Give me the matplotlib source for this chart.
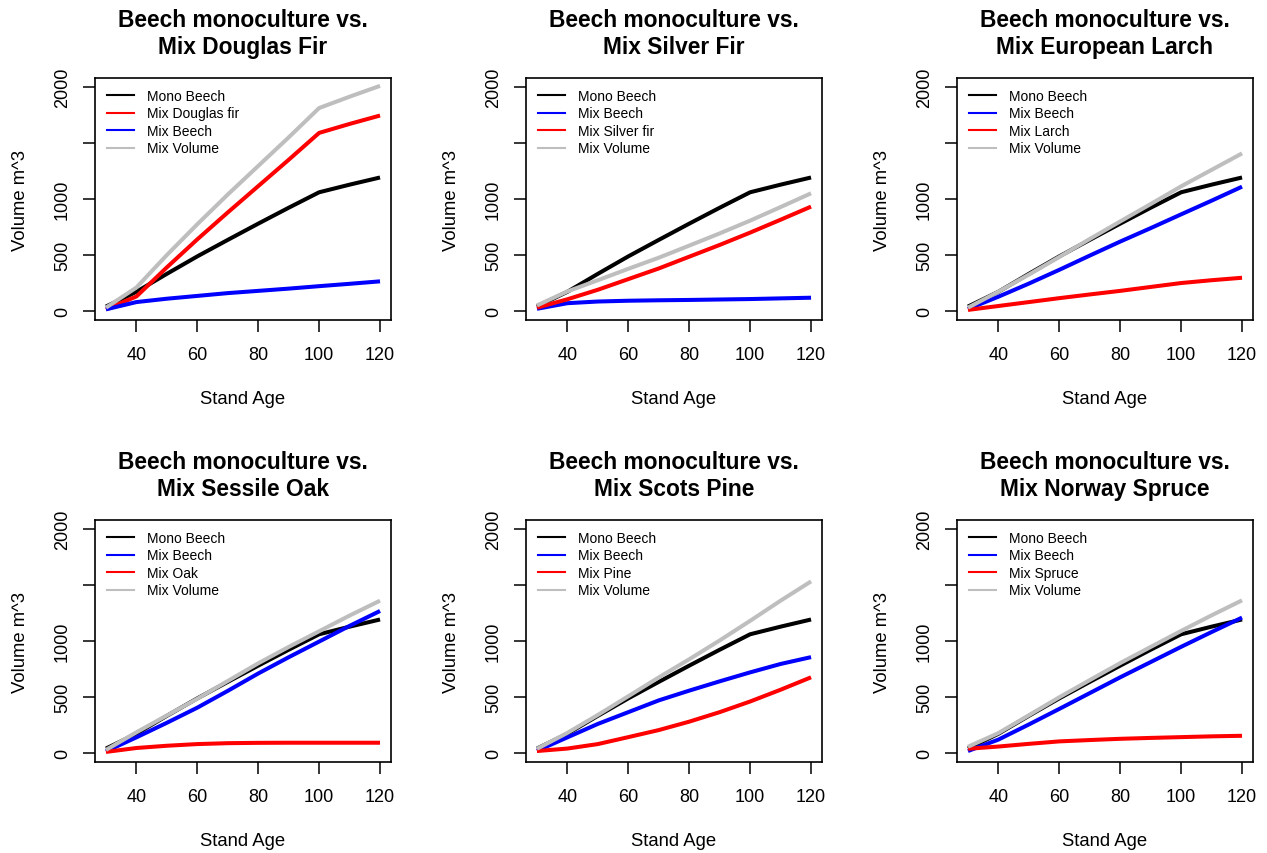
import matplotlib
matplotlib.use("Agg")
import matplotlib.pyplot as plt
from matplotlib.lines import Line2D

plt.rcParams['font.family'] = ['Liberation Sans', 'DejaVu Sans']

# stand age (years)
ages = [30, 40, 50, 60, 70, 80, 90, 100, 110, 120]

# beech monoculture, same in every panel
mono_beech = [40, 172, 332, 488, 635, 780, 922, 1060, 1128, 1192]

# Douglas fir mixture
df_fir = [15, 130, 390, 640, 880, 1115, 1350, 1590, 1670, 1745]
df_beech = [15, 80, 110, 135, 160, 180, 200, 222, 243, 265]
df_total = [30, 210, 500, 775, 1040, 1295, 1550, 1812, 1913, 2010]

# silver fir mixture
sf_fir = [30, 105, 190, 285, 380, 485, 590, 700, 815, 932]
sf_beech = [20, 70, 85, 92, 96, 99, 103, 107, 113, 119]
sf_total = [50, 175, 275, 377, 476, 584, 693, 807, 928, 1051]

# larch mixture
la_larch = [10, 45, 80, 115, 148, 180, 215, 250, 275, 297]
la_beech = [18, 128, 245, 368, 495, 620, 740, 863, 985, 1110]
la_total = [30, 173, 325, 483, 643, 800, 955, 1113, 1260, 1407]

# oak mixture
oa_oak = [10, 45, 65, 80, 88, 91, 92, 92, 92, 92]
oa_beech = [15, 140, 270, 405, 555, 710, 855, 995, 1135, 1268]
oa_total = [28, 185, 335, 485, 643, 801, 947, 1087, 1227, 1360]

# pine mixture
pi_pine = [18, 40, 80, 142, 205, 280, 365, 460, 565, 676]
pi_beech = [20, 140, 260, 365, 470, 557, 640, 720, 795, 856]
pi_total = [38, 180, 340, 507, 675, 837, 1005, 1180, 1360, 1532]

# spruce mixture
sp_spruce = [38, 58, 82, 104, 116, 127, 135, 142, 149, 154]
sp_beech = [18, 120, 255, 394, 535, 676, 812, 948, 1080, 1209]
sp_total = [56, 178, 337, 498, 651, 803, 947, 1090, 1229, 1363]

titles = ['Mix Douglas Fir', 'Mix Silver Fir', 'Mix European Larch',
          'Mix Sessile Oak', 'Mix Scots Pine', 'Mix Norway Spruce']

# (title, [(label, values, colour), ...] in legend order)
panels = [
    (titles[0], [('Mono Beech', mono_beech, 'black'),
                 ('Mix Douglas fir', df_fir, 'red'),
                 ('Mix Beech', df_beech, 'blue'),
                 ('Mix Volume', df_total, '#BEBEBE')]),
    (titles[1], [('Mono Beech', mono_beech, 'black'),
                 ('Mix Beech', sf_beech, 'blue'),
                 ('Mix Silver fir', sf_fir, 'red'),
                 ('Mix Volume', sf_total, '#BEBEBE')]),
    (titles[2], [('Mono Beech', mono_beech, 'black'),
                 ('Mix Beech', la_beech, 'blue'),
                 ('Mix Larch', la_larch, 'red'),
                 ('Mix Volume', la_total, '#BEBEBE')]),
    (titles[3], [('Mono Beech', mono_beech, 'black'),
                 ('Mix Beech', oa_beech, 'blue'),
                 ('Mix Oak', oa_oak, 'red'),
                 ('Mix Volume', oa_total, '#BEBEBE')]),
    (titles[4], [('Mono Beech', mono_beech, 'black'),
                 ('Mix Beech', pi_beech, 'blue'),
                 ('Mix Pine', pi_pine, 'red'),
                 ('Mix Volume', pi_total, '#BEBEBE')]),
    (titles[5], [('Mono Beech', mono_beech, 'black'),
                 ('Mix Beech', sp_beech, 'blue'),
                 ('Mix Spruce', sp_spruce, 'red'),
                 ('Mix Volume', sp_total, '#BEBEBE')]),
]

W, H = 1267, 854
fig = plt.figure(figsize=(W / 100, H / 100), dpi=100)

# plot regions in pixels: left, top
lefts = [95, 526, 957]
tops = [79, 521]
pw, ph = 296, 242

for i, (title, series) in enumerate(panels):
    left = lefts[i % 3]
    top = tops[i // 3]
    ax = fig.add_axes([left / W, 1 - (top + ph) / H, pw / W, ph / H])

    for label, vals, col in series:
        ax.plot(ages, vals, color=col, lw=2.9, solid_capstyle='butt')

    ax.set_xlim(26.4, 123.6)
    ax.set_ylim(-80, 2080)
    ax.set_xticks([40, 60, 80, 100, 120])
    ax.set_yticks([0, 500, 1000, 1500, 2000])
    ax.set_yticklabels(['0', '500', '1000', '', '2000'])
    ax.tick_params(length=8.4, width=1.1, labelsize=13)
    ax.tick_params(axis='x', pad=10)
    ax.tick_params(axis='y', pad=9)
    for lab in ax.get_yticklabels():
        lab.set_rotation(90)
        lab.set_va('center')
    for s in ax.spines.values():
        s.set_linewidth(1.2)

    ax.set_title('Beech monoculture vs.\n' + title, fontsize=16.4,
                 fontweight='bold', pad=18, linespacing=1.2)
    ax.set_xlabel('Stand Age', fontsize=13.3, labelpad=19.5)
    ax.set_ylabel('Volume m^3', fontsize=13.3, labelpad=18)

    handles = [Line2D([], [], color=col, lw=1.5) for _, _, col in series]
    labels = [lab for lab, _, _ in series]
    ax.legend(handles, labels, loc='upper left', frameon=False, fontsize=10,
              bbox_to_anchor=(12 / pw, 1 - 11 / ph), borderpad=0,
              borderaxespad=0, handlelength=1.95, handletextpad=0.95,
              labelspacing=0.25)

fig.savefig('out.png', dpi=100)
